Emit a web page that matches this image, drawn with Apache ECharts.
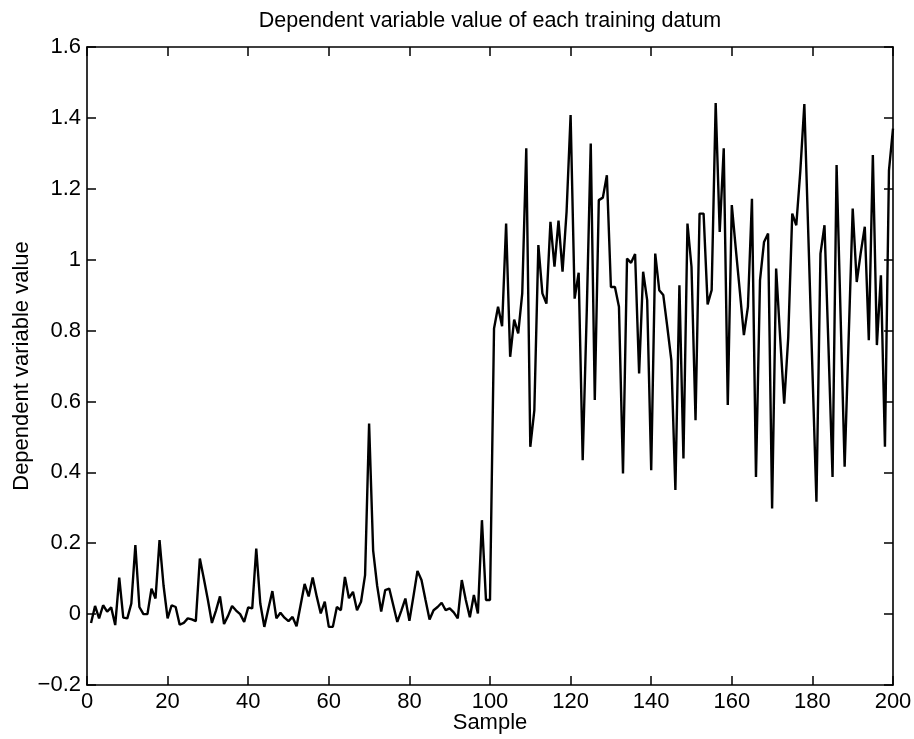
<!DOCTYPE html>
<html>
<head>
<meta charset="utf-8">
<script src="https://cdn.jsdelivr.net/npm/echarts@6/dist/echarts.min.js"></script>
<style>
html,body{margin:0;padding:0;background:#fff;}
#c{width:914px;height:739px;}
</style>
</head>
<body>
<div id="c"></div>
<script>
// Dependent variable value for samples 1..200
const low1 = [-0.025,0.023,-0.012,0.025,0.007,0.019,-0.031,0.103,-0.01,-0.012,
  0.03,0.195,0.02,0.0,0.0,0.072,0.044,0.209,0.08,-0.012,
  0.025,0.02,-0.03,-0.025,-0.012,-0.015,-0.02,0.157,0.1,0.04,
  -0.025,0.01,0.05,-0.028,-0.005,0.023,0.01,0.0,-0.022,0.019,
  0.016,0.185,0.03,-0.036,0.015,0.065,-0.012,0.004,-0.01,-0.02];
const low2 = [-0.008,-0.034,0.025,0.085,0.05,0.103,0.05,0.002,0.035,-0.036,
  -0.036,0.02,0.011,0.105,0.045,0.063,0.011,0.035,0.11,0.538,
  0.18,0.08,0.007,0.068,0.072,0.025,-0.022,0.01,0.044,-0.019,
  0.05,0.122,0.096,0.04,-0.015,0.011,0.02,0.032,0.011,0.016,
  0.005,-0.012,0.096,0.04,-0.009,0.054,0.002,0.265,0.04,0.04];
const high1 = [0.806,0.867,0.812,1.102,0.726,0.831,0.792,0.905,1.314,0.472,
  0.575,1.041,0.905,0.876,1.107,0.98,1.11,0.966,1.135,1.408,
  0.89,0.963,0.434,0.85,1.328,0.604,1.168,1.175,1.238,0.923,
  0.923,0.867,0.397,1.003,0.991,1.016,0.679,0.966,0.886,0.406,
  1.017,0.914,0.9,0.81,0.716,0.35,0.928,0.439,1.102,0.98];
const high2 = [0.547,1.13,1.13,0.874,0.914,1.442,1.078,1.314,0.59,1.154,
  1.03,0.91,0.787,0.867,1.172,0.387,0.942,1.05,1.074,0.298,
  0.975,0.78,0.594,0.78,1.13,1.097,1.25,1.439,1.065,0.69,
  0.317,1.017,1.097,0.75,0.387,1.267,0.84,0.416,0.78,1.144,
  0.937,1.02,1.093,0.773,1.295,0.759,0.956,0.472,1.252,1.37];
const values = low1.concat(low2, high1, high2);
const xTickMin = 0, xTickMax = 200, xTickStep = 20;
const yTickMin = -0.2, yTickMax = 1.6, yTickStep = 0.2;
const titleText = 'Dependent variable value of each training datum';
const xLabel = 'Sample';
const yLabel = 'Dependent variable value';

const seriesData = values.map((v, i) => [i + 1, v]);
const font = 'Liberation Sans, Arial, Helvetica, sans-serif';
const fmtY = v => {
  const r = Math.round(v * 10) / 10;
  if (r === 0) return '0';
  return String(r).replace('-', '\u2212');
};
const baseAxis = {
  axisLine: {show: true, onZero: false, lineStyle: {color: '#000', width: 1.6}},
  axisTick: {show: true, inside: true, length: 9, lineStyle: {color: '#000', width: 1.5}},
  splitLine: {show: false}
};
const chart = echarts.init(document.getElementById('c'), null, {renderer: 'canvas'});
chart.setOption({
  animation: false,
  backgroundColor: '#fff',
  title: {
    text: titleText, left: 485, top: 5, textAlign: 'center',
    textStyle: {fontFamily: font, fontSize: 21.5, fontWeight: 'normal', color: '#000'}
  },
  grid: {left: 87, right: 21, top: 47, bottom: 54, containLabel: false, outerBoundsMode: 'none'},
  xAxis: [
    Object.assign({}, baseAxis, {
      type: 'value', min: xTickMin, max: xTickMax, interval: xTickStep, position: 'bottom',
      name: xLabel, nameLocation: 'middle', nameGap: 27, nameMoveOverlap: false,
      nameTextStyle: {fontFamily: font, fontSize: 22, color: '#000'},
      axisLabel: {fontFamily: font, fontSize: 22, color: '#000', margin: 6}
    }),
    Object.assign({}, baseAxis, {
      type: 'value', min: xTickMin, max: xTickMax, interval: xTickStep, position: 'top',
      axisLabel: {show: false}
    })
  ],
  yAxis: [
    Object.assign({}, baseAxis, {
      type: 'value', min: yTickMin, max: yTickMax, interval: yTickStep, position: 'left',
      name: yLabel, nameLocation: 'middle', nameGap: 54, nameMoveOverlap: false,
      nameTextStyle: {fontFamily: font, fontSize: 22, color: '#000'},
      axisLabel: {fontFamily: font, fontSize: 22, color: '#000', margin: 6, formatter: fmtY}
    }),
    Object.assign({}, baseAxis, {
      type: 'value', min: yTickMin, max: yTickMax, interval: yTickStep, position: 'right',
      axisLabel: {show: false}
    })
  ],
  series: [{
    type: 'line', data: seriesData, xAxisIndex: 0, yAxisIndex: 0,
    showSymbol: false, symbol: 'none',
    lineStyle: {color: '#000', width: 2.4}
  }]
});
</script>
</body>
</html>
